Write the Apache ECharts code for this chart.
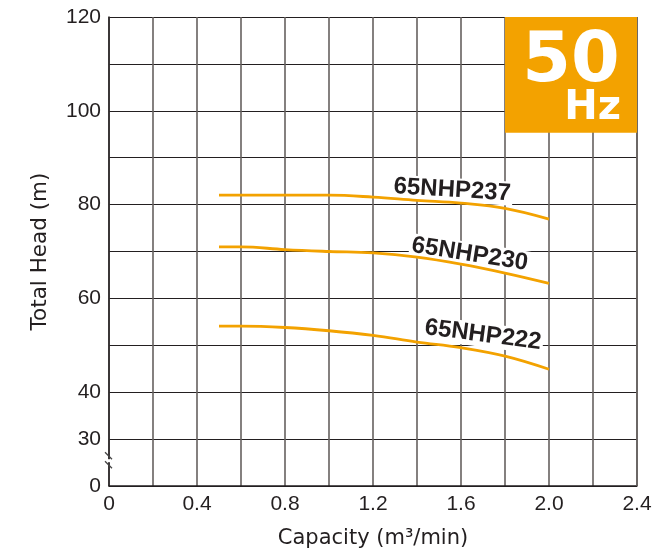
<!DOCTYPE html>
<html>
<head>
<meta charset="utf-8">
<script src="https://cdn.jsdelivr.net/npm/echarts@6/dist/echarts.min.js"></script>
<style>
html,body{margin:0;padding:0;background:#fff;}
#main{width:656px;height:555px;}
</style>
</head>
<body>
<div id="main"></div>
<script>
// ---- data ----
var capacity = [0.5, 0.6, 0.8, 1.0, 1.2, 1.4, 1.6, 1.8, 2.0];
var head237 = [82.0, 82.0, 82.0, 82.0, 81.6, 80.9, 80.3, 79.2, 76.9];
var head230 = [71.0, 71.0, 70.4, 70.0, 69.7, 68.8, 67.3, 65.4, 63.2];
var head222 = [54.1, 54.1, 53.8, 53.1, 52.1, 50.7, 49.5, 47.7, 44.9];
var seriesNames = ['65NHP237', '65NHP230', '65NHP222'];
// label anchor (capacity, head) and tilt in degrees
var labelAnchors = [[1.56, 83.1], [1.64, 69.4], [1.70, 52.2]];
var labelTilt = [3.5, 9, 7.5];
// y axis is broken: the bottom gridline (20 on the scale) is labelled 0
var yTickValues = [20, 30, 40, 60, 80, 100, 120];
var yTickText = ['0', '30', '40', '60', '80', '100', '120'];
var xTickValues = [0, 0.4, 0.8, 1.2, 1.6, 2.0, 2.4];
var xTickText = ['0', '0.4', '0.8', '1.2', '1.6', '2.0', '2.4'];
var freqText = '50';
var freqUnit = 'Hz';

function pairs(xs, ys) { return xs.map(function (x, i) { return [x, ys[i]]; }); }

var ORANGE = '#F3A200';
var DARK = '#231f20';

var chart = echarts.init(document.getElementById('main'), null, {renderer: 'canvas'});
var option = {
  animation: false,
  backgroundColor: '#fff',
  grid: {left: 109, right: 19, top: 17, bottom: 69, containLabel: false},
  xAxis: {
    type: 'value', min: 0, max: 2.4, interval: 0.2,
    name: 'Capacity (m³/min)', nameLocation: 'middle', nameGap: 42,
    nameTextStyle: {fontFamily: 'DejaVu Sans', fontSize: 21, color: DARK},
    axisLine: {show: true, onZero: false, lineStyle: {color: DARK, width: 1.5}},
    axisTick: {show: false},
    axisLabel: {
      show: true, margin: 8, fontFamily: 'Liberation Sans', fontSize: 21, color: DARK,
      showMinLabel: true, showMaxLabel: true,
      formatter: function (v) {
        for (var i = 0; i < xTickValues.length; i++) {
          if (Math.abs(v - xTickValues[i]) < 1e-6) return xTickText[i];
        }
        return '';
      }
    },
    splitLine: {show: true, lineStyle: {color: '#66615f', width: 1.6}}
  },
  yAxis: {
    type: 'value', min: 20, max: 120, interval: 10,
    name: 'Total Head (m)', nameLocation: 'middle', nameGap: 58, nameRotate: 90,
    nameTextStyle: {fontFamily: 'DejaVu Sans', fontSize: 21.5, color: DARK},
    axisLine: {show: true, lineStyle: {color: DARK, width: 1.5}},
    axisTick: {show: false},
    axisLabel: {
      show: true, margin: 8, fontFamily: 'Liberation Sans', fontSize: 21, color: DARK,
      showMinLabel: true, showMaxLabel: true,
      formatter: function (v) {
        var i = yTickValues.indexOf(Math.round(v));
        return i >= 0 ? yTickText[i] : '';
      }
    },
    splitLine: {show: true, lineStyle: {color: DARK, width: 1.2}}
  },
  series: [
    {name: seriesNames[0], type: 'line', data: pairs(capacity, head237)},
    {name: seriesNames[1], type: 'line', data: pairs(capacity, head230)},
    {name: seriesNames[2], type: 'line', data: pairs(capacity, head222)}
  ].map(function (s) {
    s.smooth = 0.4; s.showSymbol = false; s.symbol = 'none'; s.z = 3;
    s.lineStyle = {color: ORANGE, width: 2.8};
    s.itemStyle = {color: ORANGE};
    return s;
  })
};
chart.setOption(option);

function px(pt) { return chart.convertToPixel({gridIndex: 0}, pt); }

var g = [];
// right border (gray, like vertical gridlines)
var tr = px([2.4, 120]), br = px([2.4, 20]);
g.push({type: 'line', z: 2, shape: {x1: tr[0], y1: tr[1], x2: br[0], y2: br[1]}, style: {stroke: '#66615f', lineWidth: 1.6}});
// frequency badge
var bTL = px([1.8, 120]), bBR = px([2.4, 95.3]);
g.push({type: 'rect', z: 5, shape: {x: bTL[0], y: bTL[1], width: bBR[0] - bTL[0], height: bBR[1] - bTL[1]}, style: {fill: ORANGE}});
g.push({type: 'text', z: 6, x: (bTL[0] + bBR[0]) / 2 + 0, y: bTL[1] + 46,
  style: {text: freqText, fill: '#fff', font: 'bold 70px "DejaVu Sans"', align: 'center', verticalAlign: 'middle'}});
g.push({type: 'text', z: 6, x: bBR[0] - 16, y: bTL[1] + 92,
  style: {text: freqUnit, fill: '#fff', font: 'bold 40px "DejaVu Sans"', align: 'right', verticalAlign: 'middle'}});
// curve labels
for (var k = 0; k < seriesNames.length; k++) {
  var p = px(labelAnchors[k]);
  g.push({type: 'text', z: 1, x: p[0], y: p[1], rotation: -labelTilt[k] * Math.PI / 180,
    style: {text: seriesNames[k], fill: DARK, font: 'bold 24px "Liberation Sans"', align: 'center', verticalAlign: 'middle',
      backgroundColor: '#fff', padding: [0, 2, 0, 2]}});
}
// axis break marks
var bp = px([0, 25.5]);
g.push({type: 'rect', z: 4, shape: {x: bp[0] - 2, y: bp[1] - 1, width: 4, height: 3}, style: {fill: '#fff'}});
g.push({type: 'line', z: 5, shape: {x1: bp[0] - 4, y1: bp[1] - 8, x2: bp[0] + 3, y2: bp[1] - 1}, style: {stroke: '#444', lineWidth: 1.2}});
g.push({type: 'line', z: 5, shape: {x1: bp[0] - 4, y1: bp[1] + 1, x2: bp[0] + 3, y2: bp[1] + 8}, style: {stroke: '#444', lineWidth: 1.2}});

chart.setOption({graphic: g});
</script>
</body>
</html>
